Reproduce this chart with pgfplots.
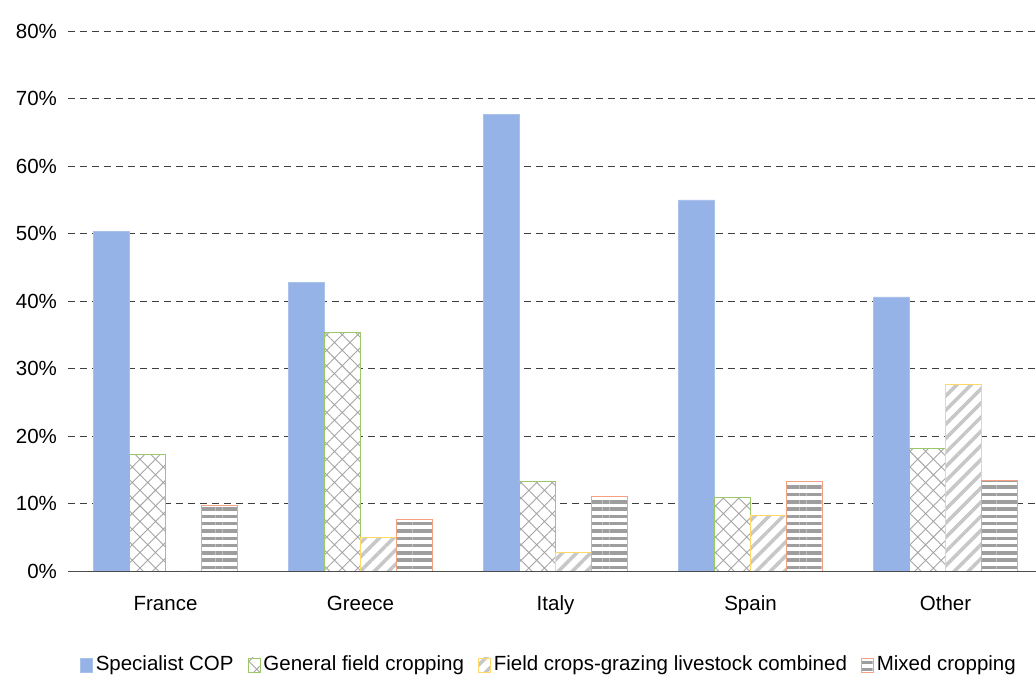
\documentclass[border=0pt]{standalone}
\usepackage{pgfplots}
\pgfplotsset{compat=1.18}
\usepackage{fontspec}
\setmainfont{Liberation Sans}
\usetikzlibrary{patterns.meta}
\definecolor{cop}{RGB}{149,179,230}
\definecolor{gfc}{RGB}{155,200,105}
\definecolor{fcg}{RGB}{255,217,102}
\definecolor{mix}{RGB}{244,160,130}
\begin{document}
\fontsize{20.5}{24}\selectfont
\begin{tikzpicture}
\begin{axis}[
  at={(68pt,106pt)}, anchor=south west,
  scale only axis, width=968pt, height=540pt,
  xmin=-0.5, xmax=4.464, ymin=0, ymax=80,
  ybar=0pt, bar width=36pt,
  xtick={0,1,2,3,4},
  xticklabels={France,Greece,Italy,Spain,Other},
  ytick={0,10,...,80},
  yticklabel={\pgfmathprintnumber{\tick}\%},
  /pgf/number format/assume math mode=true,
  major tick length=0pt,
  axis y line*=left,
  axis x line*=bottom,
  x axis line style={draw=black!70, line width=0.8pt, -},
  y axis line style={draw=none},
  ymajorgrids,
  grid style={dashed, black!75, line width=0.8pt, dash pattern=on 7pt off 5pt},
  yticklabel style={xshift=-4pt},
  xticklabel style={yshift=-18pt},
  tick label style={font=\fontsize{20.5}{24}\selectfont},
  legend style={at={(0.497,-0.174)}, anchor=center, draw=none, fill=none,
    legend columns=-1, font=\fontsize{20.5}{24}\selectfont,
    /tikz/every odd column/.append style={column sep=1pt},
    /tikz/every even column/.append style={column sep=12pt}},
  legend image code/.code={\draw[#1, bar width=0pt] (0pt,-7pt) rectangle (12pt,7pt);},
  legend cell align=left,
]
\addplot[fill=cop, draw=cop!80!white] coordinates {(0,50.3) (1,42.8) (2,67.7) (3,55.0) (4,40.6)};
\addplot[draw=gfc, line width=0.8pt, preaction={fill=white}, pattern={Hatch[angle=45,distance=11pt,line width=0.9pt]}, pattern color=black!35]
  coordinates {(0,17.3) (1,35.3) (2,13.3) (3,10.9) (4,18.2)};
\addplot[draw=fcg, line width=0.8pt, preaction={fill=white}, pattern={Lines[angle=45,distance=10pt,line width=3.5pt]}, pattern color=black!22]
  coordinates {(0,0) (1,5.0) (2,2.8) (3,8.3) (4,27.7)};
\addplot[draw=mix, line width=0.8pt, preaction={fill=white}, pattern={Lines[angle=0,distance=7.3pt,line width=3.5pt]}, pattern color=black!38]
  coordinates {(0,9.7) (1,7.6) (2,11.1) (3,13.2) (4,13.4)};
\legend{Specialist COP, General field cropping, Field crops-grazing livestock combined, Mixed cropping}
\end{axis}
\pgfresetboundingbox
\path[use as bounding box] (0,0) rectangle (1036pt,677pt);
\end{tikzpicture}
\end{document}
